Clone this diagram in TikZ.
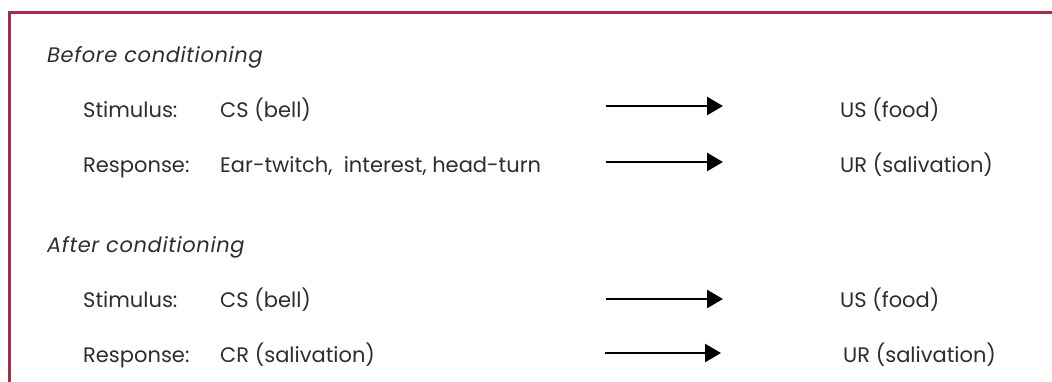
\documentclass[tikz,border=0pt]{standalone}
\usepackage{fontspec}
\setmainfont{Poppins}
\usetikzlibrary{arrows.meta}
\definecolor{framered}{RGB}{158,50,78}
\definecolor{txtgray}{RGB}{45,45,45}

\begin{document}
\begin{tikzpicture}[x=1pt, y=-1pt,
    lbl/.style = {anchor=base west, inner sep=0pt, text=txtgray, font=\fontsize{21}{25}\selectfont},
    hdr/.style = {lbl, font=\fontsize{21}{25}\selectfont\itshape\addfontfeature{LetterSpace=3}},
    arr/.style = {line width=2.7pt, -{Triangle[length=16pt, width=18pt]}}]
                \useasboundingbox (0,0) rectangle (1052,381);
                \draw[line width=2.3pt, framered] (9.5,383) -- (9.5,12.5) -- (1054,12.5);
                % before
                \node[hdr] (before) at (47,62) {Before conditioning};
                \node[lbl] (stimA) at (83,117) {Stimulus:};
                \node[lbl] (csA) at (220,117) {CS (bell)};
                \node[lbl] (usA) at (840,117) {US (food)};
                \node[lbl] (respA) at (83,172) {Response:};
                \node[lbl] (orA) at (220,172) {Ear-twitch,\ \ interest, head-turn};
                \node[lbl] (urA) at (840,172) {UR (salivation)};
                \coordinate (a1s) at (606,106);
                \coordinate (a1e) at (723,106);
                \coordinate (a2s) at (606,162);
                \coordinate (a2e) at (723,162);
                \draw[arr] (a1s) -- (a1e);
                \draw[arr] (a2s) -- (a2e);
                % after
                \node[hdr] (after) at (47,252) {After conditioning};
                \node[lbl] (stimB) at (83,307) {Stimulus:};
                \node[lbl] (csB) at (220,307) {CS (bell)};
                \node[lbl] (usB) at (840,307) {US (food)};
                \node[lbl] (respB) at (83,362) {Response:};
                \node[lbl] (crB) at (220,362) {CR (salivation)};
                \node[lbl] (urB) at (843,362) {UR (salivation)};
                \coordinate (a3s) at (606,299);
                \coordinate (a3e) at (723,299);
                \coordinate (a4s) at (605,353);
                \coordinate (a4e) at (721,353);
                \draw[arr] (a3s) -- (a3e);
                \draw[arr] (a4s) -- (a4e);
            \end{tikzpicture}
\end{document}
